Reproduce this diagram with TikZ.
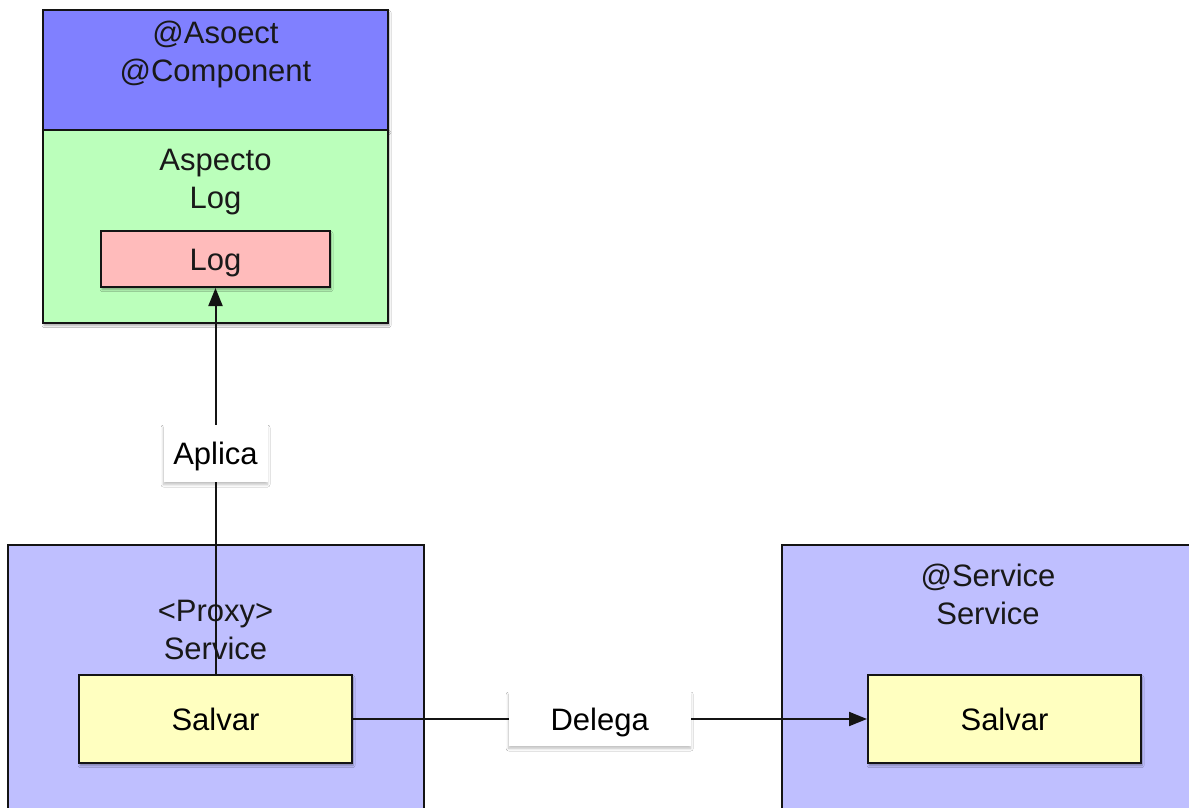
\documentclass[tikz,border=0pt]{standalone}
\usepackage{fontspec}
\setmainfont{Liberation Sans}
\usetikzlibrary{arrows.meta,shadows.blur}
\definecolor{aspTopC}{RGB}{128,128,255}
\definecolor{aspBodyC}{RGB}{187,255,187}
\definecolor{logC}{RGB}{255,187,187}
\definecolor{svcC}{RGB}{191,191,255}
\definecolor{salvC}{RGB}{255,255,192}
\definecolor{lineC}{RGB}{20,20,20}
\tikzset{
  box/.style={draw=lineC, line width=2pt, inner sep=0pt, rectangle},
  shbox/.style={box, blur shadow={shadow blur steps=6, shadow xshift=1pt, shadow yshift=-2.5pt, shadow blur radius=2pt, shadow opacity=35}},
  lbl/.style={fill=white, inner sep=0pt, text height=22pt, text depth=0pt, blur shadow={shadow blur steps=6, shadow xshift=0pt, shadow yshift=-2.5pt, shadow blur radius=2.5pt, shadow opacity=25}},
  txt/.style={align=center, inner sep=0pt, text=black!90},
  capc/.style={inner sep=0pt, text height=22pt, text depth=0pt},
  conn/.style={draw=lineC, line width=2pt},
  arr/.style={conn, -{Triangle[length=18pt,width=14pt]}}
}
\begin{document}
\begin{tikzpicture}[x=1pt,y=-1pt, font=\fontsize{31}{38}\selectfont]
\clip (0,0) rectangle (1189,808);
\fill[white] (0,0) rectangle (1189,808);
% aspect component
\node[shbox, fill=aspTopC, minimum width=345pt, minimum height=120pt] (asptop) at (215.5,70) {};
\node[shbox, fill=aspBodyC, minimum width=345pt, minimum height=193pt] (aspbody) at (215.5,226.5) {};
\node[txt] (asptoptxt) at (215.5,54) {@Asoect\\@Component};
\node[txt] (aspbodytxt) at (215.5,182) {Aspecto\\Log};
\node[shbox, fill=logC, minimum width=229pt, minimum height=56pt] (logbox) at (215.5,259) {};
\node[txt, capc] (logtxt) at (215.5,259) {Log};
% proxy service
\node[box, fill=svcC, minimum width=416pt, minimum height=300pt] (proxy) at (216,695) {};
\node[txt] (proxytxt) at (215.5,630) {<Proxy>\\Service};
\node[shbox, capc, fill=salvC, minimum width=273pt, minimum height=88pt] (salvL) at (215.5,719) {Salvar};
% real service
\node[box, fill=svcC, minimum width=440pt, minimum height=300pt] (svc) at (1002,695) {};
\node[txt] (svctxt) at (988,594) {@Service\\Service};
\node[shbox, capc, fill=salvC, minimum width=273pt, minimum height=88pt] (salvR) at (1004.5,719) {Salvar};
% connectors
\draw[arr] (salvL.north) -- node[lbl, pos=0.571, minimum width=104pt, minimum height=57pt] (aplica) {Aplica} (logbox.south);
\draw[arr] (salvL.east) -- node[lbl, pos=0.48, minimum width=182pt, minimum height=54pt] (delega) {Delega} (salvR.west);
\end{tikzpicture}
\end{document}
